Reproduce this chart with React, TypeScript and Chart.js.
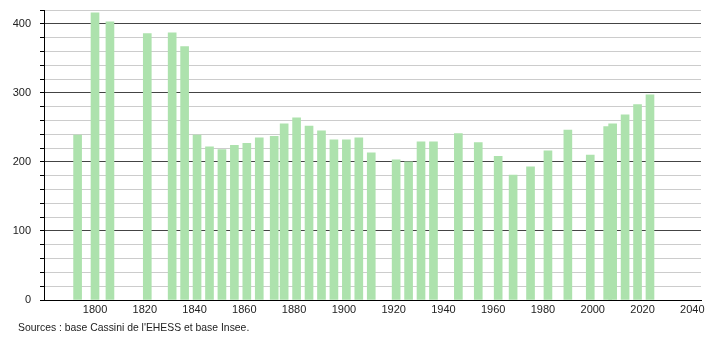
import React, { useEffect, useRef } from "react";
import { Chart, registerables } from "chart.js";

Chart.register(...registerables);

const years = [
  1793, 1800, 1806, 1821, 1831, 1836, 1841, 1846, 1851, 1856, 1861, 1866, 1872,
  1876, 1881, 1886, 1891, 1896, 1901, 1906, 1911, 1921, 1926, 1931, 1936, 1946,
  1954, 1962, 1968, 1975, 1982, 1990, 1999, 2006, 2008, 2013, 2018, 2023,
];
const population = [
  239, 416, 403, 386, 387, 367, 239, 222, 218, 224, 227, 235, 237,
  255, 264, 252, 245, 232, 232, 235, 213, 203, 200, 229, 229, 241,
  228, 208, 181, 193, 216, 246, 210, 251, 255, 268, 283, 297,
];
const xTickLabels = [1800, 1820, 1840, 1860, 1880, 1900, 1920, 1940, 1960, 1980, 2000, 2020, 2040];
const sourceText = "Sources : base Cassini de l'EHESS et base Insee.";

const FONT = "'Liberation Sans', Arial, sans-serif";

export default function App() {
  const ref = useRef<HTMLCanvasElement | null>(null);

  useEffect(() => {
    document.body.style.margin = "0";
    const canvas = ref.current;
    if (!canvas) return;

    const sourcePlugin = {
      id: "sourceText",
      afterDraw(chart: any) {
        const ctx = chart.ctx;
        ctx.save();
        ctx.font = `10.4px ${FONT}`;
        ctx.fillStyle = "#222";
        ctx.textBaseline = "middle";
        ctx.textAlign = "left";
        ctx.fillText(sourceText, 18, 328);
        ctx.restore();
      },
    };

    const chart = new Chart(canvas, {
      type: "bar",
      data: {
        datasets: [
          {
            data: years.map((y, i) => ({ x: y, y: population[i] })),
            backgroundColor: "#ade2ad",
            borderWidth: 0,
            barThickness: 8,
          },
        ],
      },
      options: {
        animation: false,
        responsive: false,
        maintainAspectRatio: false,
        layout: { padding: { top: 10, right: 9, left: 0, bottom: 0 } },
        plugins: {
          legend: { display: false },
          tooltip: { enabled: false },
        },
        scales: {
          x: {
            type: "linear",
            min: 1779.5,
            max: 2043.5,
            offset: false,
            grid: { display: false, drawTicks: false },
            border: { display: true, color: "#000", width: 1 },
            afterBuildTicks: (scale: any) => {
              scale.ticks = xTickLabels.map((v) => ({ value: v }));
            },
            ticks: {
              autoSkip: false,
              maxRotation: 0,
              padding: 3,
              color: "#222",
              font: { family: FONT, size: 11 },
              callback: (v: any) => String(v),
            },
            afterFit: (scale: any) => {
              scale.height = 40;
            },
          },
          y: {
            min: 0,
            max: 420,
            grid: {
              color: (c: any) => {
                const v = c.tick ? c.tick.value : 0;
                return v % 100 === 0 ? "#444" : "#cccccc";
              },
              lineWidth: 1,
              drawTicks: true,
              tickLength: 4,
              tickColor: "#000",
            },
            border: { display: true, color: "#000", width: 1 },
            ticks: {
              stepSize: 20,
              autoSkip: false,
              padding: 9,
              color: "#222",
              font: { family: FONT, size: 11 },
              callback: (v: any) => (Number(v) % 100 === 0 ? String(v) : ""),
            },
            afterFit: (scale: any) => {
              scale.width = 44;
              scale.paddingTop = 0;
              scale.paddingBottom = 0;
            },
          },
        },
      },
      plugins: [sourcePlugin],
    } as any);

    return () => chart.destroy();
  }, []);

  return (
    <div style={{ width: 710, height: 340, position: "relative" }}>
      <canvas ref={ref} width={710} height={340} style={{ display: "block" }} />
    </div>
  );
}
